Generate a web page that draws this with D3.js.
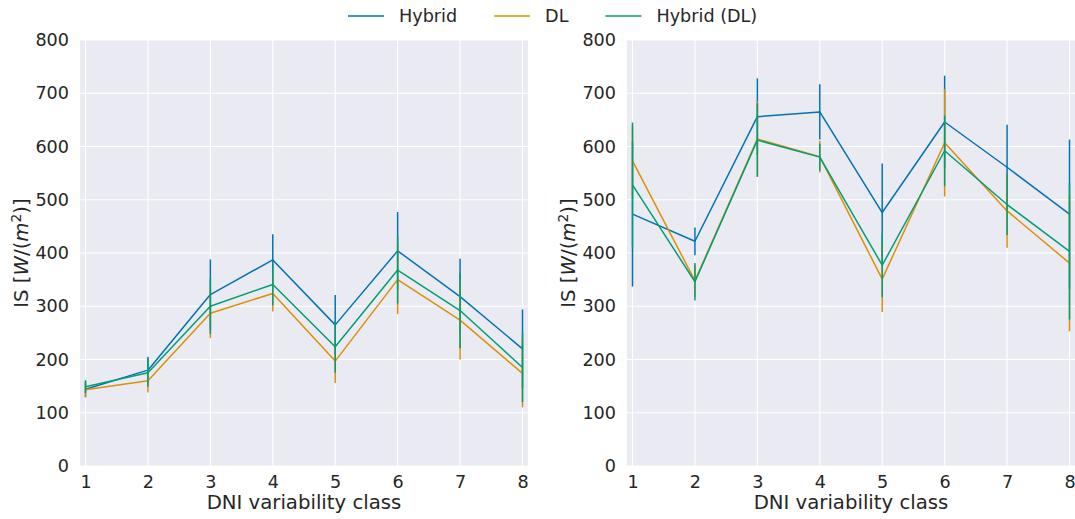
<!DOCTYPE html>
<html>
<head>
<meta charset="utf-8">
<script src="https://cdn.jsdelivr.net/npm/d3@7/dist/d3.min.js"></script>
<style>
  html, body { margin: 0; padding: 0; background: #ffffff; }
  svg { display: block; font-family: "DejaVu Sans", sans-serif; }
  .tick text { fill: #262626; }
</style>
</head>
<body>
<svg id="chart" width="1075" height="519"></svg>
<script>
// DNI variability classes on the x axis
const classes = [1, 2, 3, 4, 5, 6, 7, 8];
const yTicks = [0, 100, 200, 300, 400, 500, 600, 700, 800];
const seriesNames = ["Hybrid", "DL", "Hybrid (DL)"];
const seriesColors = ["#0173b2", "#de8f05", "#029e73"];

// Left panel: mean IS and error half-width per class
const leftHybrid     = [144, 180, 322, 387, 265, 404, 318, 220];
const leftHybridErr  = [15, 25, 66, 48, 56, 73, 71, 74];
const leftDL         = [143, 160, 287, 324, 197, 350, 274, 174];
const leftDLErr      = [13, 22, 47, 34, 41, 65, 74, 64];
const leftHybDL      = [149, 175, 300, 341, 224, 368, 292, 185];
const leftHybDLErr   = [12, 26, 52, 39, 49, 63, 71, 65];

// Right panel: mean IS and error half-width per class
const rightHybrid    = [473, 422, 656, 665, 476, 646, 561, 473];
const rightHybridErr = [136, 26, 72, 52, 92, 87, 80, 140];
const rightDL        = [573, 348, 614, 581, 351, 607, 479, 381];
const rightDLErr     = [65, 30, 71, 30, 62, 101, 69, 128];
const rightHybDL     = [528, 346, 612, 580, 377, 592, 491, 403];
const rightHybDLErr  = [117, 35, 69, 25, 60, 66, 57, 128];

const panels = [
  { left: 80,  means: [leftHybrid, leftDL, leftHybDL],   errs: [leftHybridErr, leftDLErr, leftHybDLErr] },
  { left: 627, means: [rightHybrid, rightDL, rightHybDL], errs: [rightHybridErr, rightDLErr, rightHybDLErr] }
];

const plotW = 448, plotTop = 40, plotBottom = 466;
const plotH = plotBottom - plotTop;
const tickFont = 17.6, labelFont = 19.7;
const svg = d3.select("#chart");

panels.forEach(p => {
  const x = d3.scaleLinear().domain([0.912, 8.088]).range([0, plotW]);
  const y = d3.scaleLinear().domain([0, 800]).range([plotH, 0]);
  const g = svg.append("g").attr("transform", `translate(${p.left},${plotTop})`);

  g.append("rect").attr("width", plotW).attr("height", plotH).attr("fill", "#eaeaf2");

  // grid
  g.append("g").selectAll("line").data(yTicks).join("line")
    .attr("x1", 0).attr("x2", plotW).attr("y1", d => y(d)).attr("y2", d => y(d))
    .attr("stroke", "#ffffff").attr("stroke-width", 1.1);
  g.append("g").selectAll("line").data(classes).join("line")
    .attr("y1", 0).attr("y2", plotH).attr("x1", d => x(d)).attr("x2", d => x(d))
    .attr("stroke", "#ffffff").attr("stroke-width", 1.1);

  // axes
  const ax = g.append("g").attr("transform", `translate(0,${plotH})`)
    .call(d3.axisBottom(x).tickValues(classes).tickFormat(d3.format("d")).tickSize(0).tickPadding(9.5));
  const ay = g.append("g")
    .call(d3.axisLeft(y).tickValues(yTicks).tickFormat(d3.format("d")).tickSize(0).tickPadding(11));
  [ax, ay].forEach(a => {
    a.select(".domain").remove();
    a.selectAll("text").attr("font-size", tickFont).attr("font-family", "DejaVu Sans");
  });

  // x label
  g.append("text").attr("x", plotW / 2).attr("y", 509 - plotTop)
    .attr("text-anchor", "middle").attr("font-size", labelFont).attr("fill", "#262626")
    .text("DNI variability class");

  // y label: IS [W/(m^2)]
  const yl = g.append("text")
    .attr("transform", `translate(-52,${plotH / 2}) rotate(-90)`)
    .attr("text-anchor", "middle").attr("font-size", labelFont).attr("fill", "#262626");
  yl.append("tspan").text("IS [");
  yl.append("tspan").attr("font-style", "italic").text("W");
  yl.append("tspan").text("/(");
  yl.append("tspan").attr("font-style", "italic").text("m");
  yl.append("tspan").attr("font-size", labelFont * 0.7).attr("dy", -7).text("2");
  yl.append("tspan").attr("dy", 7).text(")]");

  // series: line then error bars, drawn in hue order
  const line = d3.line().x((d, i) => x(classes[i])).y(d => y(d));
  p.means.forEach((m, s) => {
    g.append("path").datum(m).attr("d", line)
      .attr("fill", "none").attr("stroke", seriesColors[s]).attr("stroke-width", 1.5)
      .attr("stroke-linejoin", "round");
    g.append("g").selectAll("line").data(m).join("line")
      .attr("x1", (d, i) => x(classes[i])).attr("x2", (d, i) => x(classes[i]))
      .attr("y1", (d, i) => y(d - p.errs[s][i])).attr("y2", (d, i) => y(d + p.errs[s][i]))
      .attr("stroke", seriesColors[s]).attr("stroke-width", 1.5);
  });
});

// legend across the top
const legend = svg.append("g").attr("transform", "translate(348,16)");
let lx = 0;
seriesNames.forEach((name, i) => {
  legend.append("line").attr("x1", lx).attr("x2", lx + 36).attr("y1", 0).attr("y2", 0)
    .attr("stroke", seriesColors[i]).attr("stroke-width", 1.5);
  const t = legend.append("text").attr("x", lx + 51).attr("y", 0).attr("dy", "0.35em")
    .attr("font-size", tickFont).attr("fill", "#262626").text(name);
  lx += 51 + t.node().getComputedTextLength() + 37;
});
</script>
</body>
</html>
